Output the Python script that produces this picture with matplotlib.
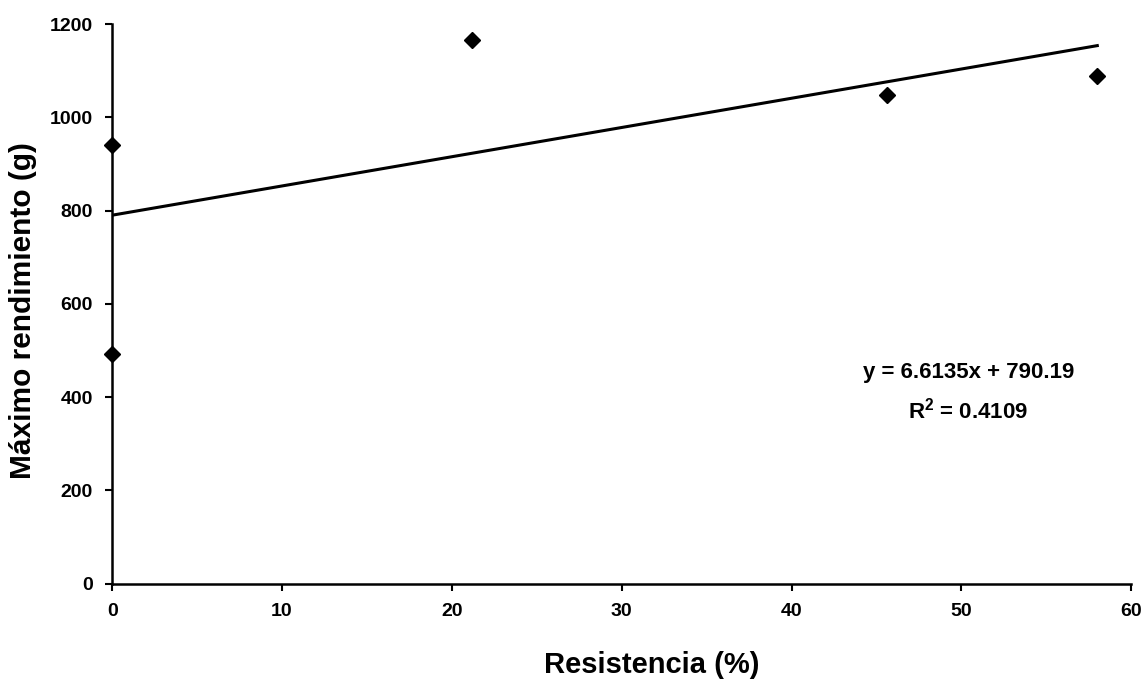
import matplotlib.pyplot as plt
import numpy as np

plt.rcParams['font.family'] = ['Liberation Sans', 'DejaVu Sans']
plt.rcParams['mathtext.fontset'] = 'custom'
plt.rcParams['mathtext.rm'] = 'Liberation Sans'
plt.rcParams['mathtext.bf'] = 'Liberation Sans:bold'

resistencia = [0, 0, 21.2, 45.6, 58.0]
rendimiento = [940, 493, 1165, 1047, 1088]
ecuacion = 'y = 6.6135x + 790.19'
r2 = '$\\mathbf{R^2}$ = 0.4109'

fig = plt.figure(figsize=(11.45, 6.86), dpi=100)
ax = fig.add_axes([0.098, 0.149, 0.890, 0.816])

# linea de tendencia ajustada a los puntos
a, b = np.polyfit(resistencia, rendimiento, 1)
xs = np.array([0, max(resistencia)])
ax.plot(xs, a * xs + b, color='black', linewidth=2.2, zorder=2)

ax.plot(resistencia, rendimiento, linestyle='none', marker='D', markersize=8,
        color='black', clip_on=False, zorder=3)

ax.set_xlim(0, 60)
ax.set_ylim(0, 1200)
ax.set_xticks(range(0, 61, 10))
ax.set_yticks(range(0, 1201, 200))
for s in ['top', 'right']:
    ax.spines[s].set_visible(False)
for s in ['left', 'bottom']:
    ax.spines[s].set_linewidth(1.8)
ax.tick_params(direction='out', length=5, width=1.5, labelsize=14, pad=9)
for lab in ax.get_xticklabels() + ax.get_yticklabels():
    lab.set_fontweight('bold')

ax.set_xlabel('Resistencia (%)', fontsize=21, fontweight='bold')
ax.set_ylabel('Máximo rendimiento (g)', fontsize=21.5, fontweight='bold')
ax.xaxis.set_label_coords(0.529, -0.12)
ax.yaxis.set_label_coords(-0.074, 0.488)

ax.text(0.840, 0.378, ecuacion, transform=ax.transAxes,
        ha='center', va='center', fontsize=16, fontweight='bold')
ax.text(0.840, 0.310, r2, transform=ax.transAxes,
        ha='center', va='center', fontsize=16, fontweight='bold')

fig.savefig('out.png', dpi=100)
